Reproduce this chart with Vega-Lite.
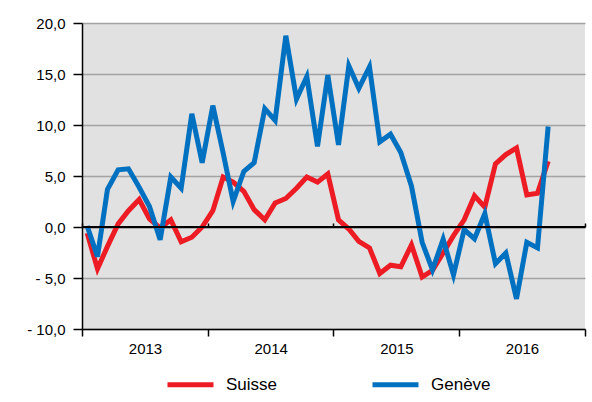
{
  "$schema": "https://vega.github.io/schema/vega-lite/v6.json",
  "width": 503,
  "height": 306,
  "autosize": {"type": "none"},
  "padding": {"left": 82, "top": 23, "right": 7, "bottom": 73},
  "background": "white",
  "config": {
    "view": {"fill": "#e1e1e1", "stroke": null},
    "font": "Liberation Sans",
    "axis": {"labelFont": "Liberation Sans", "labelFontSize": 15, "labelColor": "black"}
  },
  "data": {
    "values": [
      {"month": "2013-01-16", "suisse": -0.6, "geneve": 0.1},
      {"month": "2013-02-15", "suisse": -4.1, "geneve": -2.9},
      {"month": "2013-03-16", "suisse": -1.9, "geneve": 3.7},
      {"month": "2013-04-16", "suisse": 0.3, "geneve": 5.6},
      {"month": "2013-05-16", "suisse": 1.6, "geneve": 5.7},
      {"month": "2013-06-16", "suisse": 2.7, "geneve": 3.9},
      {"month": "2013-07-16", "suisse": 0.8, "geneve": 2.0},
      {"month": "2013-08-16", "suisse": -0.1, "geneve": -1.25},
      {"month": "2013-09-16", "suisse": 0.7, "geneve": 4.9},
      {"month": "2013-10-16", "suisse": -1.45, "geneve": 3.8},
      {"month": "2013-11-16", "suisse": -1.0, "geneve": 11.1},
      {"month": "2013-12-16", "suisse": 0.0, "geneve": 6.3},
      {"month": "2014-01-16", "suisse": 1.6, "geneve": 11.9},
      {"month": "2014-02-15", "suisse": 4.9, "geneve": 7.25},
      {"month": "2014-03-16", "suisse": 4.4, "geneve": 2.5},
      {"month": "2014-04-16", "suisse": 3.5, "geneve": 5.45},
      {"month": "2014-05-16", "suisse": 1.7, "geneve": 6.3},
      {"month": "2014-06-16", "suisse": 0.7, "geneve": 11.6},
      {"month": "2014-07-16", "suisse": 2.35, "geneve": 10.45},
      {"month": "2014-08-16", "suisse": 2.8, "geneve": 18.75},
      {"month": "2014-09-16", "suisse": 3.8, "geneve": 12.55},
      {"month": "2014-10-16", "suisse": 4.9, "geneve": 14.75},
      {"month": "2014-11-16", "suisse": 4.4, "geneve": 7.9},
      {"month": "2014-12-16", "suisse": 5.2, "geneve": 14.9},
      {"month": "2015-01-16", "suisse": 0.7, "geneve": 8.05},
      {"month": "2015-02-15", "suisse": -0.2, "geneve": 15.8},
      {"month": "2015-03-16", "suisse": -1.4, "geneve": 13.6},
      {"month": "2015-04-16", "suisse": -2.05, "geneve": 15.7},
      {"month": "2015-05-16", "suisse": -4.55, "geneve": 8.35},
      {"month": "2015-06-16", "suisse": -3.75, "geneve": 9.1},
      {"month": "2015-07-16", "suisse": -3.9, "geneve": 7.3},
      {"month": "2015-08-16", "suisse": -1.75, "geneve": 4.0},
      {"month": "2015-09-16", "suisse": -4.9, "geneve": -1.5},
      {"month": "2015-10-16", "suisse": -4.25, "geneve": -4.2},
      {"month": "2015-11-16", "suisse": -2.55, "geneve": -1.2},
      {"month": "2015-12-16", "suisse": -0.85, "geneve": -4.7},
      {"month": "2016-01-16", "suisse": 0.7, "geneve": -0.25},
      {"month": "2016-02-15", "suisse": 3.05, "geneve": -1.15},
      {"month": "2016-03-16", "suisse": 1.95, "geneve": 1.3},
      {"month": "2016-04-16", "suisse": 6.2, "geneve": -3.6},
      {"month": "2016-05-16", "suisse": 7.1, "geneve": -2.55},
      {"month": "2016-06-16", "suisse": 7.75, "geneve": -7.05},
      {"month": "2016-07-16", "suisse": 3.15, "geneve": -1.5},
      {"month": "2016-08-16", "suisse": 3.3, "geneve": -2.05},
      {"month": "2016-09-16", "suisse": 6.45, "geneve": 9.85}
    ]
  },
  "resolve": {"axis": {"x": "independent"}},
  "layer": [
    {
      "mark": {"type": "line", "strokeWidth": 5},
      "encoding": {
        "x": {
          "field": "month",
          "type": "temporal",
          "scale": {"type": "utc", "domain": [{"year": 2013, "month": 1, "date": 1, "utc": true}, {"year": 2017, "month": 1, "date": 1, "utc": true}]},
          "axis": {
            "orient": "bottom",
            "title": null,
            "grid": false,
            "values": [
              {"year": 2013, "month": 1, "date": 1, "utc": true},
              {"year": 2014, "month": 1, "date": 1, "utc": true},
              {"year": 2015, "month": 1, "date": 1, "utc": true},
              {"year": 2016, "month": 1, "date": 1, "utc": true},
              {"year": 2017, "month": 1, "date": 1, "utc": true}
            ],
            "labelExpr": "utcyear(datum.value) < 2017 ? utcFormat(datum.value, '%Y') : ''",
            "labelOffset": 63,
            "labelFlush": false,
            "labelOverlap": false,
            "labelBound": false,
            "labelPadding": 5,
            "tickSize": 7,
            "tickWidth": 1.5,
            "tickColor": "black",
            "domainColor": "black",
            "domainWidth": 1.5
          }
        },
        "y": {
          "field": "suisse",
          "type": "quantitative",
          "scale": {"domain": [-10, 20], "nice": false, "zero": false},
          "axis": {
            "title": null,
            "values": [-10, -5, 0, 5, 10, 15, 20],
            "labelExpr": "(datum.value < 0 ? '- ' : '') + replace(format(abs(datum.value), '.1f'), '.', ',')",
            "grid": true,
            "gridColor": {"condition": {"test": "datum.value === 0", "value": "black"}, "value": "#a3a3a3"},
            "gridWidth": 1.5,
            "tickSize": 9,
            "tickWidth": 1.5,
            "tickColor": "black",
            "domainColor": "black",
            "domainWidth": 1.5,
            "labelPadding": 8
          }
        },
        "color": {
          "datum": "Suisse",
          "type": "nominal",
          "scale": {"domain": ["Suisse", "Genève"], "range": ["#ed1c24", "#0070c0"]},
          "legend": {
            "orient": "none",
            "legendX": 83,
            "legendY": 336,
            "direction": "horizontal",
            "title": null,
            "symbolType": "stroke",
            "symbolStrokeWidth": 5,
            "symbolSize": 2116,
            "labelFont": "Liberation Sans",
            "labelFontSize": 17,
            "labelColor": "black",
            "labelOffset": 10,
            "columnPadding": 84
          }
        }
      }
    },
    {
      "mark": {"type": "line", "strokeWidth": 5},
      "encoding": {
        "x": {"field": "month", "type": "temporal", "axis": null},
        "y": {"field": "geneve", "type": "quantitative"},
        "color": {"datum": "Genève", "type": "nominal"}
      }
    },
    {
      "mark": {"type": "rule", "color": "black", "strokeWidth": 1.5},
      "encoding": {
        "x": {
          "datum": {"year": 2013, "month": 1, "date": 1, "utc": true},
          "type": "temporal",
          "axis": {
            "orient": "top",
            "offset": -204,
            "title": null,
            "labels": false,
            "grid": false,
            "domain": false,
            "tickSize": 4,
            "tickWidth": 1.5,
            "tickColor": "black",
            "values": [
              {"year": 2013, "month": 1, "date": 1, "utc": true},
              {"year": 2014, "month": 1, "date": 1, "utc": true},
              {"year": 2015, "month": 1, "date": 1, "utc": true},
              {"year": 2016, "month": 1, "date": 1, "utc": true},
              {"year": 2017, "month": 1, "date": 1, "utc": true}
            ]
          }
        },
        "x2": {"datum": {"year": 2017, "month": 1, "date": 1, "utc": true}},
        "y": {"datum": 0, "type": "quantitative"}
      }
    }
  ]
}
